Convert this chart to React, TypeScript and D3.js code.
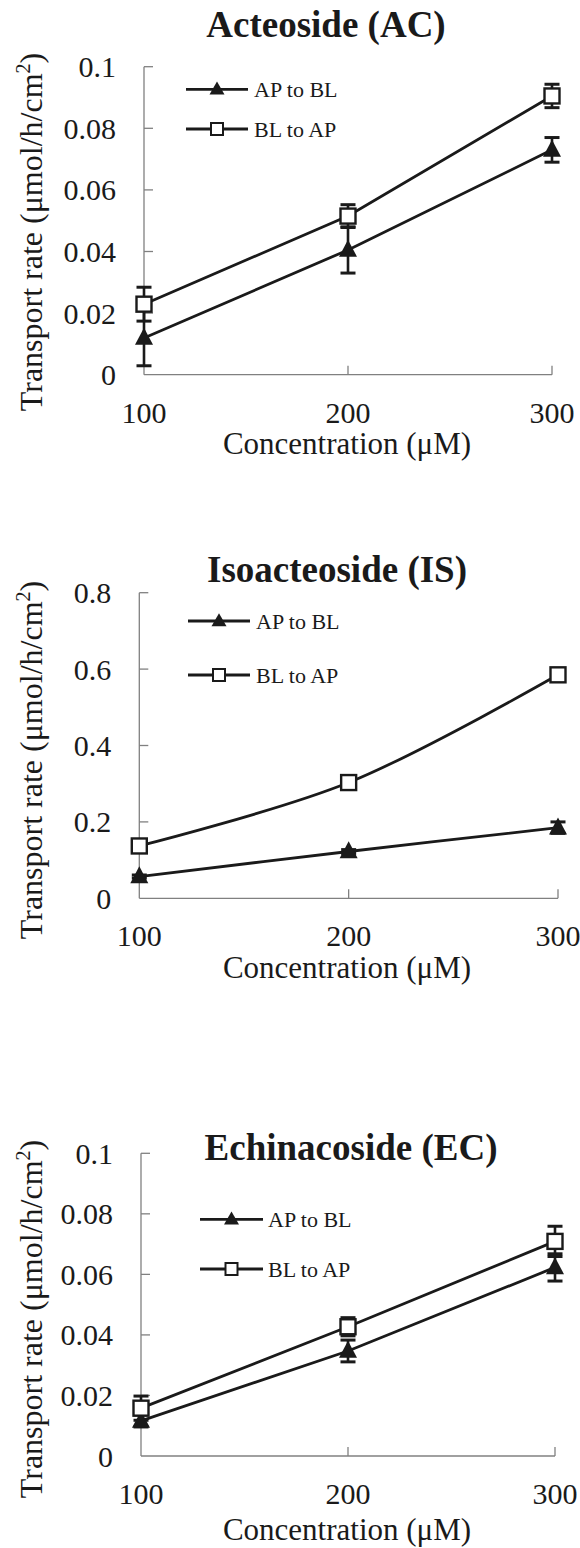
import React from "react";
import * as d3 from "d3";

// ---------- data ----------
const concentrations = [100, 200, 300];
const xTickLabels = ["100", "200", "300"];

const acApToBl = [0.0119, 0.0405, 0.073];
const acApToBlErr = [0.009, 0.0075, 0.004];
const acBlToAp = [0.0229, 0.0515, 0.0905];
const acBlToApErr = [0.0055, 0.0037, 0.0038];

const isApToBl = [0.057, 0.1225, 0.185];
const isApToBlErr = [0.004, 0.005, 0.015];
const isBlToAp = [0.137, 0.303, 0.585];
const isBlToApErr = [0.006, 0.008, 0.008];

const ecApToBl = [0.0116, 0.0347, 0.0623];
const ecApToBlErr = [0.002, 0.0036, 0.0045];
const ecBlToAp = [0.0158, 0.0427, 0.0709];
const ecBlToApErr = [0.004, 0.003, 0.005];

const smallTicks = [0, 0.02, 0.04, 0.06, 0.08, 0.1];
const smallTickLabels = ["0", "0.02", "0.04", "0.06", "0.08", "0.1"];
const isTicks = [0, 0.2, 0.4, 0.6, 0.8];
const isTickLabels = ["0", "0.2", "0.4", "0.6", "0.8"];

const seriesNames = ["AP to BL", "BL to AP"];
const titles = ["Acteoside (AC)", "Isoacteoside (IS)", "Echinacoside (EC)"];
const xTitle = "Concentration (\u03bcM)";

// ---------- layout ----------
const panels = [
  {
    title: titles[0], ap: acApToBl, apErr: acApToBlErr, bl: acBlToAp, blErr: acBlToApErr,
    ticks: smallTicks, tickLabels: smallTickLabels, yMax: 0.1,
    xl: 144, xr: 552, y0: 374.7, yt: 66.7,
    titleX: 326, titleY: 37, legX1: 186, legX2: 248, legY: [89.3, 129], legTextX: 254,
    yTitleCY: 232, xTitleY: 443, smooth: false,
  },
  {
    title: titles[1], ap: isApToBl, apErr: isApToBlErr, bl: isBlToAp, blErr: isBlToApErr,
    ticks: isTicks, tickLabels: isTickLabels, yMax: 0.8,
    xl: 139.3, xr: 558, y0: 898.3, yt: 592.7,
    titleX: 337, titleY: 581.7, legX1: 188, legX2: 250, legY: [621, 675], legTextX: 256,
    yTitleCY: 760, xTitleY: 966.7, smooth: true,
  },
  {
    title: titles[2], ap: ecApToBl, apErr: ecApToBlErr, bl: ecBlToAp, blErr: ecBlToApErr,
    ticks: smallTicks, tickLabels: smallTickLabels, yMax: 0.1,
    xl: 141, xr: 555, y0: 1456, yt: 1153.3,
    titleX: 351, titleY: 1160, legX1: 200, legX2: 263, legY: [1219.3, 1269], legTextX: 268,
    yTitleCY: 1319, xTitleY: 1529, smooth: false,
  },
];

const FONT = "'Liberation Serif', 'Times New Roman', serif";
const AXIS = "#808080";

function tri(cx: number, cy: number, w: number, h: number) {
  return `M${cx},${cy - h * 0.6}L${cx + w / 2},${cy + h * 0.4}L${cx - w / 2},${cy + h * 0.4}Z`;
}

function Panel({ p }: { p: any }) {
  const x = d3.scaleLinear().domain([100, 300]).range([p.xl, p.xr]);
  const y = d3.scaleLinear().domain([0, p.yMax]).range([p.y0, p.yt]);
  const line = d3
    .line<number>()
    .x((_, i) => x(concentrations[i]))
    .y((d) => y(d))
    .curve(p.smooth ? d3.curveCatmullRom : d3.curveLinear);

  const errBars = (vals: number[], errs: number[], key: string) =>
    vals.map((v, i) => {
      const cx = x(concentrations[i]);
      const top = y(v + errs[i]);
      const bot = y(Math.max(0, v - errs[i]));
      return (
        <g key={key + i} stroke="#1a1a1a" strokeWidth={2.6}>
          <line x1={cx} x2={cx} y1={top} y2={bot} />
          <line x1={cx - 7.5} x2={cx + 7.5} y1={top} y2={top} strokeWidth={3} />
          <line x1={cx - 7.5} x2={cx + 7.5} y1={bot} y2={bot} strokeWidth={3} />
        </g>
      );
    });

  return (
    <g>
      {/* title */}
      <text x={p.titleX} y={p.titleY} textAnchor="middle" fontFamily={FONT} fontWeight="bold" fontSize={37} fill="#1a1a1a">
        {p.title}
      </text>

      {/* axes */}
      <line x1={p.xl} x2={p.xl} y1={p.yt} y2={p.y0} stroke={AXIS} strokeWidth={1.3} />
      <line x1={p.xl} x2={p.xr} y1={p.y0} y2={p.y0} stroke={AXIS} strokeWidth={1.3} />
      {p.ticks.map((t: number, i: number) => (
        <g key={"yt" + i}>
          {t > 0 && <line x1={p.xl} x2={p.xl + 9} y1={y(t)} y2={y(t)} stroke={AXIS} strokeWidth={1.3} />}
          <text x={p.xl - 28} y={y(t)} dy="0.35em" textAnchor="end" fontFamily={FONT} fontSize={30} fill="#1a1a1a">
            {p.tickLabels[i]}
          </text>
        </g>
      ))}
      {concentrations.map((c, i) => (
        <g key={"xt" + i}>
          {i > 0 && <line x1={x(c)} x2={x(c)} y1={p.y0} y2={p.y0 - 9} stroke={AXIS} strokeWidth={1.3} />}
          <text x={x(c)} y={p.y0 + 37.5} dy="0.35em" textAnchor="middle" fontFamily={FONT} fontSize={30} fill="#1a1a1a">
            {xTickLabels[i]}
          </text>
        </g>
      ))}

      {/* axis titles */}
      <text x={347} y={p.xTitleY} dy="0.35em" textAnchor="middle" fontFamily={FONT} fontSize={31} fill="#1a1a1a">
        {xTitle}
      </text>
      <text transform={`translate(42,${p.yTitleCY}) rotate(-90)`} textAnchor="middle" fontFamily={FONT} fontSize={32} fill="#1a1a1a">
        Transport rate (μmol/h/cm
        <tspan dy={-12} fontSize={20}>2</tspan>
        <tspan dy={12}>)</tspan>
      </text>

      {/* lines */}
      <path d={line(p.ap) || ""} fill="none" stroke="#1a1a1a" strokeWidth={2.8} />
      <path d={line(p.bl) || ""} fill="none" stroke="#1a1a1a" strokeWidth={2.8} />

      {/* error bars */}
      {errBars(p.ap, p.apErr, "ea")}
      {errBars(p.bl, p.blErr, "eb")}

      {/* markers */}
      {p.ap.map((v: number, i: number) => (
        <path key={"ta" + i} d={tri(x(concentrations[i]), y(v), 18, 17)} fill="#1a1a1a" />
      ))}
      {p.bl.map((v: number, i: number) => (
        <rect key={"sb" + i} x={x(concentrations[i]) - 7.5} y={y(v) - 7.5} width={15} height={15} fill="#fff" stroke="#1a1a1a" strokeWidth={2.4} />
      ))}

      {/* legend */}
      <line x1={p.legX1} x2={p.legX2} y1={p.legY[0]} y2={p.legY[0]} stroke="#1a1a1a" strokeWidth={2.8} />
      <path d={tri((p.legX1 + p.legX2) / 2, p.legY[0], 15, 13)} fill="#1a1a1a" />
      <text x={p.legTextX} y={p.legY[0] + 8} fontFamily={FONT} fontSize={22} fill="#1a1a1a">
        {seriesNames[0]}
      </text>
      <line x1={p.legX1} x2={p.legX2} y1={p.legY[1]} y2={p.legY[1]} stroke="#1a1a1a" strokeWidth={2.8} />
      <rect x={(p.legX1 + p.legX2) / 2 - 6} y={p.legY[1] - 6} width={12} height={12} fill="#fff" stroke="#1a1a1a" strokeWidth={2} />
      <text x={p.legTextX} y={p.legY[1] + 8} fontFamily={FONT} fontSize={22} fill="#1a1a1a">
        {seriesNames[1]}
      </text>
    </g>
  );
}

export default function App() {
  return (
    <svg
      width={580}
      height={1548}
      viewBox="0 0 580 1548"
      style={{ position: "absolute", left: 0, top: 0, background: "#fff" }}
    >
      <rect width={580} height={1548} fill="#fff" />
      {panels.map((p, i) => (
        <Panel key={i} p={p} />
      ))}
    </svg>
  );
}
